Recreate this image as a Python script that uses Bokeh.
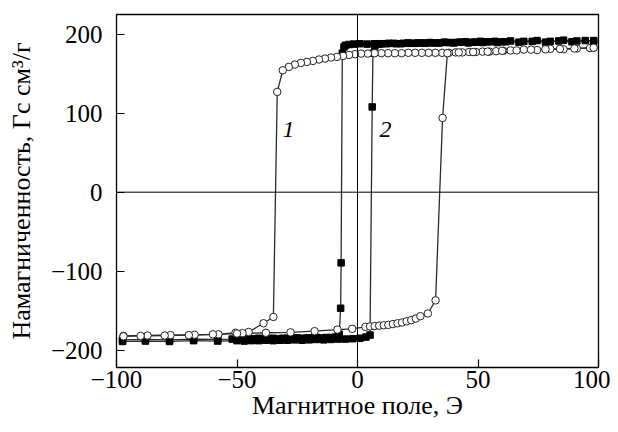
from bokeh.plotting import figure
from bokeh.models import Span, Range1d, FixedTicker, Label
from bokeh.embed import file_html
from bokeh.resources import INLINE

# Curve 1 (open circles): descending field branch
h1_dn = [98, 96.5, 91, 85.5, 80, 74.5, 69, 63.5, 60.5, 57.5, 54.7, 51.9, 49.1, 46.3,
         43.5, 40.7, 37.9, 35.1, 32.3, 29.5, 26.7, 23.9, 21.1, 18.3, 15.5, 12.7, 9.9,
         7.1, 4.3, 1.5, -1, -3.5, -6, -8.5, -11, -13.5, -16, -18.5, -21, -23.5, -26,
         -28.5, -31, -33.3, -34.9, -39, -45.2, -47.7, -50.6, -57.7, -67.6, -77.6,
         -87.1, -97.1]
m1_dn = [183, 182.5, 182, 181, 181.5, 180, 180.5, 179.5, 179, 178.5, 178, 178, 177.5,
         177.5, 177, 177, 176.5, 176.5, 176.5, 176.5, 176.5, 176.5, 176.5, 176, 176,
         176, 176, 176, 175.5, 175.5, 174.7, 173.8, 172.5, 171.3, 170.5, 169.2, 168,
         166.2, 164.9, 163.7, 161.6, 158.6, 154.4, 127, -158, -166, -177, -178.5,
         -178, -180, -180.5, -181, -181.5, -182]

# Curve 1: ascending field branch
h1_up = [-97.1, -90, -80, -70, -60, -50, -38, -27.8, -17.8, -8.3, -2.2, 3.3, 5.2, 7.1,
         9.0, 10.9, 12.8, 14.7, 16.6, 18.5, 20.4, 22.3, 24.2, 26.1, 29.2, 32.4, 35.3,
         37.3, 42, 48, 54, 60, 66, 72, 78, 84, 90, 98]
m1_up = [-182.5, -182, -181.5, -181, -180, -179, -178, -177.5, -176, -174, -173,
         -170.5, -170, -169.5, -169, -168.5, -168, -167, -166, -165, -163.5, -162,
         -160, -157, -153.6, -137, 94, 176, 177, 177.5, 178, 179, 179.5, 180.5, 181,
         181.5, 182, 183]

# Curve 2 (filled squares): descending field branch
h2_dn = [98, 94.5, 89, 83.5, 78, 72.5, 67, 61.5, 58, 55, 52, 49, 46, 43, 40, 37, 34,
         31, 28, 25, 22, 19, 16, 13, 10, 7, 4, 1, -1.5, -3.5, -5, -5.6, -6.3, -6.8,
         -7.0, -7.6, -9, -11, -13, -15, -17, -19, -21, -23, -25, -27, -29, -31, -33,
         -35, -37, -39, -41, -43, -45, -48, -52, -58, -68, -78, -88, -97.5]
m2_dn = [191, 192, 190.5, 191.5, 190, 191, 190, 190.5, 189.5, 190.5, 189.5, 190, 189,
         190, 189, 189.5, 189, 189, 188.5, 189, 188.5, 188.5, 188, 188.5, 188, 188,
         187.5, 188, 187.5, 187, 186, 184, 176, -89.5, -147, -180, -183.5, -184,
         -184, -184.5, -184, -184.5, -184.5, -185, -184.5, -185, -185, -185, -185.5,
         -185, -185.5, -185.5, -185, -185.5, -186, -185.5, -186, -186.5, -186, -187,
         -186.5, -187]

# Curve 2: ascending field branch
h2_up = [-97.5, -88, -78, -68, -58, -50, -47, -44, -41, -38, -35, -32, -29, -26, -23,
         -20, -17, -14, -11, -8, -5, -2, 1, 3.5, 5.2, 6.1, 6.4, 7.2, 9, 12, 15, 18, 21,
         24, 27, 30, 33, 36, 39, 42, 45, 48, 51, 54, 57, 60, 63.5, 69, 74.5, 80, 85.5,
         91, 98]
m2_up = [-189, -188.5, -189, -188, -188.5, -188, -188.5, -188, -188, -187.5, -188,
         -187.5, -187.5, -187, -187.5, -187, -186.5, -187, -186.5, -186, -186, -185.5,
         -185, -183.5, -181, 108, 176, 185, 187.5, 188, 188.5, 188, 189, 188.5, 189,
         189.5, 189, 190, 189.5, 190, 190.5, 190, 191, 190.5, 191, 190.5, 191.5, 191,
         192, 191, 192.5, 191.5, 192]

x_ticks = [-100, -50, 0, 50, 100]
y_ticks = [-200, -100, 0, 100, 200]
x_label = "Магнитное поле, Э"
y_label = "Намагниченность, Гс см³/г"
curve_labels = ["1", "2"]
curve_label_x = [-28.6, 11.6]
curve_label_y = [80, 80]

FONT = "Liberation Serif"

p = figure(width=610, height=424, x_range=Range1d(-100, 100), y_range=Range1d(-222, 225),
           output_backend="svg", toolbar_location=None,
           min_border_left=116, min_border_right=12, min_border_top=14, min_border_bottom=57)
p.xgrid.visible = False
p.ygrid.visible = False
p.outline_line_color = "black"
p.outline_line_width = 1.3
p.background_fill_color = "white"
p.border_fill_color = "white"

p.xaxis.ticker = FixedTicker(ticks=x_ticks)
p.yaxis.ticker = FixedTicker(ticks=y_ticks)
p.xaxis.major_label_overrides = {t: str(t).replace("-", "\u2212") for t in x_ticks}
p.yaxis.major_label_overrides = {t: str(t).replace("-", "\u2212") for t in y_ticks}
for ax in (p.xaxis[0], p.yaxis[0]):
    ax.axis_line_color = None
    ax.major_tick_in = 8
    ax.major_tick_out = 0
    ax.major_tick_line_color = "black"
    ax.major_tick_line_width = 1.2
    ax.minor_tick_line_color = None
    ax.major_label_text_font = FONT
    ax.major_label_text_font_size = "25px"
    ax.major_label_text_color = "black"
    ax.axis_label_text_font = FONT
    ax.axis_label_text_font_size = "26px"
    ax.axis_label_text_font_style = "normal"
    ax.axis_label_text_color = "black"
p.xaxis.axis_label = x_label
p.yaxis.axis_label = y_label
p.xaxis.major_label_standoff = 3
p.xaxis.axis_label_standoff = 0
p.yaxis.major_label_standoff = 14
p.yaxis.axis_label_standoff = 12

p.add_layout(Span(location=0, dimension="width", line_color="black", line_width=1))
p.add_layout(Span(location=0, dimension="height", line_color="black", line_width=1))

line_col = "#2a2a2a"
# Curve 2 (squares) below
p.line(h2_dn, m2_dn, line_color=line_col, line_width=1.3)
p.line(h2_up, m2_up, line_color=line_col, line_width=1.3)
p.scatter(h2_dn, m2_dn, marker="square", size=6.5, fill_color="black", line_color="black")
p.scatter(h2_up, m2_up, marker="square", size=6.5, fill_color="black", line_color="black")
# Curve 1 (circles) on top
p.line(h1_dn, m1_dn, line_color=line_col, line_width=1.3)
p.line(h1_up, m1_up, line_color=line_col, line_width=1.3)
p.scatter(h1_dn, m1_dn, marker="circle", size=7.5, fill_color="white", line_color="#222222", line_width=1)
p.scatter(h1_up, m1_up, marker="circle", size=7.5, fill_color="white", line_color="#222222", line_width=1)

for t, lx, ly in zip(curve_labels, curve_label_x, curve_label_y):
    p.add_layout(Label(x=lx, y=ly, text=t, text_font=FONT, text_font_style="italic",
                       text_font_size="24px", text_align="center", text_baseline="middle",
                       text_color="black"))

open("out.html", "w").write(file_html(p, INLINE))
